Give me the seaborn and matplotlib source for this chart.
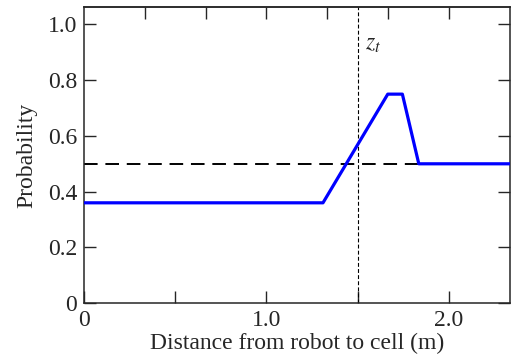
import pandas as pd
import matplotlib
matplotlib.use("Agg")
import matplotlib.pyplot as plt
import seaborn as sns

# Datos
distancia = [0.0, 1.31, 1.665, 1.745, 1.835, 2.34]
probabilidad = [0.36, 0.36, 0.75, 0.75, 0.50, 0.50]
z_t = 1.5
prior = 0.5

x_ticks = [0, 0.5, 1.0, 1.5, 2.0]
x_labels = ["0", "", "1.0", "", "2.0"]
y_ticks = [0, 0.2, 0.4, 0.6, 0.8, 1.0]
y_labels = ["0", "0.2", "0.4", "0.6", "0.8", "1.0"]
top_ticks = [1/3, 2/3, 1.0, 4/3, 5/3, 2.0]

sns.set_style("ticks")
plt.rcParams['font.family'] = ['Liberation Serif', 'DejaVu Serif']
plt.rcParams['mathtext.fontset'] = 'stix'

df = pd.DataFrame({'Distancia': distancia, 'Probabilidad': probabilidad})

fig, ax = plt.subplots(figsize=(5.15, 3.6), dpi=100)

# Linea del prior y la medicion
ax.axhline(prior, color='black', lw=1.4, ls=(0, (7, 4)), zorder=1)
ax.axvline(z_t, color='black', lw=0.8, ls=(0, (3.5, 2)), zorder=1)
sns.lineplot(data=df, x='Distancia', y='Probabilidad', color='blue', lw=2.3,
             ax=ax, zorder=3, sort=False)

ax.text(z_t + 0.04, 0.91, r'$z_t$', fontsize=17)

ax.set_xlim(0, 2.334)
ax.set_ylim(0, 1.062)
ax.set_xticks(x_ticks)
ax.set_xticklabels(x_labels)
ax.set_yticks(y_ticks)
ax.set_yticklabels(y_labels)
ax.tick_params(direction='in', length=8.5, width=1, labelsize=17, right=True, pad=5)

# Marcas superiores cada 1/3
sec = ax.secondary_xaxis('top')
sec.set_xticks(top_ticks)
sec.set_xticklabels([])
sec.tick_params(direction='in', length=8.5, width=1)

for s in ax.spines.values():
    s.set_linewidth(1.1)
for s in sec.spines.values():
    s.set_linewidth(1.1)

ax.set_xlabel('Distance from robot to cell (m)', fontsize=17, labelpad=1)
ax.set_ylabel('Probability', fontsize=17, labelpad=7.5)

fig.subplots_adjust(left=0.163, right=0.99, top=0.98, bottom=0.158)
fig.savefig('out.png', dpi=100)
